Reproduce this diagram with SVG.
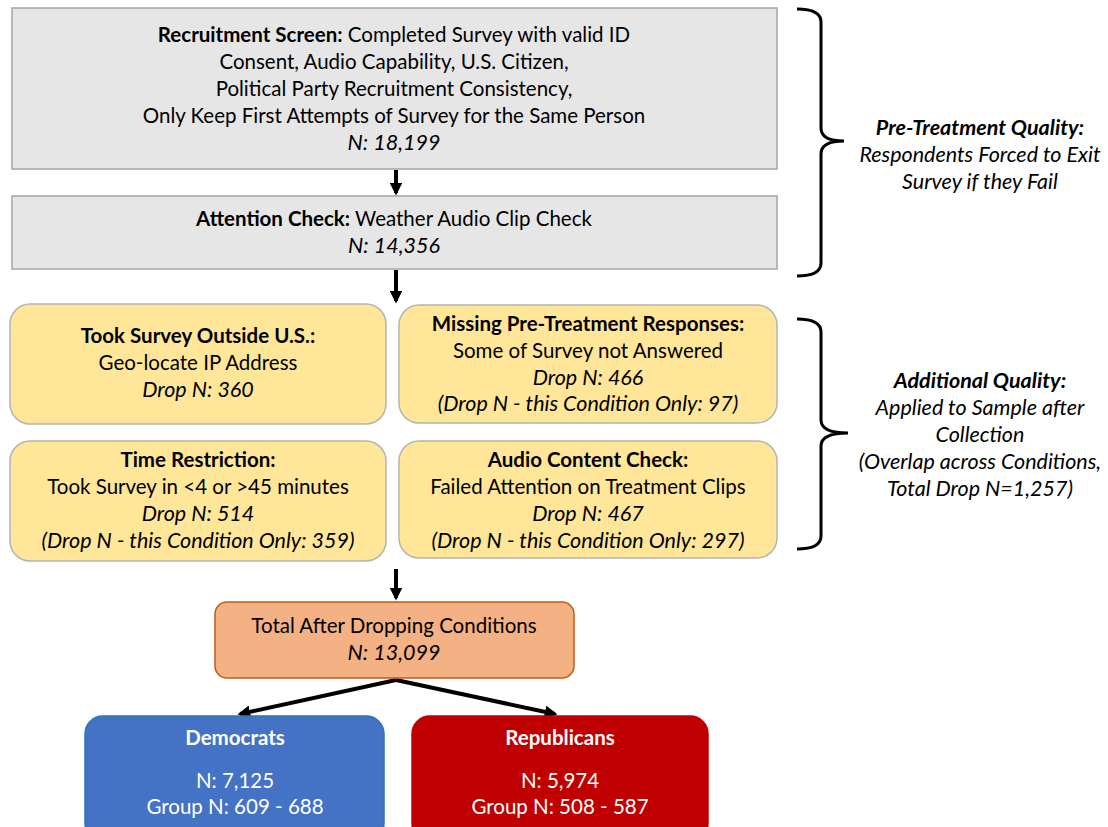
<svg xmlns="http://www.w3.org/2000/svg" width="1108" height="827" viewBox="0 0 1108 827">
<defs>
<style>
text{font-family:Lato,"Noto Sans","Liberation Sans",sans-serif;font-size:20.5px;fill:#000;text-anchor:middle}
.b{font-weight:bold}
.i{font-style:italic;font-size:21.5px}
.w{fill:#fff}
.gray{fill:#e7e6e6;stroke:#a5a5a5;stroke-width:1.5}
.yel{fill:#ffe699;stroke:#b4b4b4;stroke-width:1.5}
.arr{stroke:#000;stroke-width:4;fill:none}
.brace{stroke:#000;stroke-width:3;fill:none}
</style>
<marker id="ah" viewBox="0 0 10 10" refX="8" refY="5" markerWidth="3.2" markerHeight="3.2" orient="auto" markerUnits="strokeWidth">
<path d="M0,0 L10,5 L0,10 z" fill="#000"/>
</marker>
</defs>
<rect width="1108" height="827" fill="#fff"/>
<g id="connectors">
<line class="arr" x1="396" y1="170" x2="396" y2="193" marker-end="url(#ah)"/>
<line class="arr" x1="396" y1="270" x2="396" y2="301" marker-end="url(#ah)"/>
<line class="arr" x1="396" y1="569" x2="396" y2="598" marker-end="url(#ah)"/>
<line class="arr" x1="396" y1="680" x2="240" y2="714" marker-end="url(#ah)"/>
<line class="arr" x1="396" y1="680" x2="555" y2="714" marker-end="url(#ah)"/>
</g>
<g id="recruitment">
<rect class="gray" x="12" y="8" width="765" height="161"/>
<text x="394" y="42"><tspan class="b">Recruitment Screen:</tspan> Completed Survey with valid ID</text>
<text x="394" y="69">Consent, Audio Capability, U.S. Citizen,</text>
<text x="394" y="96">Political Party Recruitment Consistency,</text>
<text x="394" y="123">Only Keep First Attempts of Survey for the Same Person</text>
<text x="394" y="150" class="i">N: 18,199</text>
</g>
<g id="attention">
<rect class="gray" x="12" y="196" width="765" height="73"/>
<text x="394" y="226"><tspan class="b">Attention Check:</tspan> Weather Audio Clip Check</text>
<text x="394" y="253" class="i">N: 14,356</text>
</g>
<g id="outside">
<rect class="yel" x="10" y="304" width="376" height="120" rx="20"/>
<text x="198" y="343" class="b">Took Survey Outside U.S.:</text>
<text x="198" y="370">Geo-locate IP Address</text>
<text x="198" y="397" class="i">Drop N: 360</text>
</g>
<g id="missing">
<rect class="yel" x="399" y="305" width="378" height="118" rx="20"/>
<text x="588" y="331" class="b">Missing Pre-Treatment Responses:</text>
<text x="588" y="358">Some of Survey not Answered</text>
<text x="588" y="385" class="i">Drop N: 466</text>
<text x="588" y="411" class="i">(Drop N - this Condition Only: 97)</text>
</g>
<g id="time">
<rect class="yel" x="10" y="441" width="376" height="120" rx="20"/>
<text x="198" y="467" class="b">Time Restriction:</text>
<text x="198" y="494">Took Survey in &lt;4 or &gt;45 minutes</text>
<text x="198" y="521" class="i">Drop N: 514</text>
<text x="198" y="548" class="i">(Drop N - this Condition Only: 359)</text>
</g>
<g id="audio">
<rect class="yel" x="399" y="441" width="378" height="117" rx="20"/>
<text x="588" y="467" class="b">Audio Content Check:</text>
<text x="588" y="494">Failed Attention on Treatment Clips</text>
<text x="588" y="521" class="i">Drop N: 467</text>
<text x="588" y="548" class="i">(Drop N - this Condition Only: 297)</text>
</g>
<g id="total">
<rect x="215" y="602" width="359" height="76" rx="12" fill="#f4b183" stroke="#c55a11" stroke-width="1.5"/>
<text x="394" y="633">Total After Dropping Conditions</text>
<text x="394" y="660" class="i">N: 13,099</text>
</g>
<g id="democrats">
<rect x="85" y="716" width="299" height="125" rx="18" fill="#4472c4" stroke="#2e75b6" stroke-width="1.5"/>
<text x="235" y="745" class="b w">Democrats</text>
<text x="235" y="788" class="w">N: 7,125</text>
<text x="235" y="814" class="w">Group N: 609 - 688</text>
</g>
<g id="republicans">
<rect x="412" y="716" width="296" height="125" rx="18" fill="#c00000" stroke="#c00000" stroke-width="1.5"/>
<text x="560" y="745" class="b w">Republicans</text>
<text x="560" y="788" class="w">N: 5,974</text>
<text x="560" y="814" class="w">Group N: 508 - 587</text>
</g>
<g id="pretreatment">
<path class="brace" d="M797,9 Q821,9 821,22 L821,128 Q821,141 844,141 Q821,141 821,154 L821,263 Q821,276 797,276"/>
<text x="980" y="135" class="b i">Pre-Treatment Quality:</text>
<text x="980" y="162" class="i">Respondents Forced to Exit</text>
<text x="980" y="189" class="i">Survey if they Fail</text>
</g>
<g id="additional">
<path class="brace" d="M797,319 Q821,319 821,332 L821,420 Q821,433 848,433 Q821,433 821,446 L821,536 Q821,549 797,549"/>
<text x="980" y="388" class="b i">Additional Quality:</text>
<text x="980" y="415" class="i">Applied to Sample after</text>
<text x="980" y="442" class="i">Collection</text>
<text x="980" y="469" class="i">(Overlap across Conditions,</text>
<text x="980" y="496" class="i">Total Drop N=1,257)</text>
</g>
</svg>
